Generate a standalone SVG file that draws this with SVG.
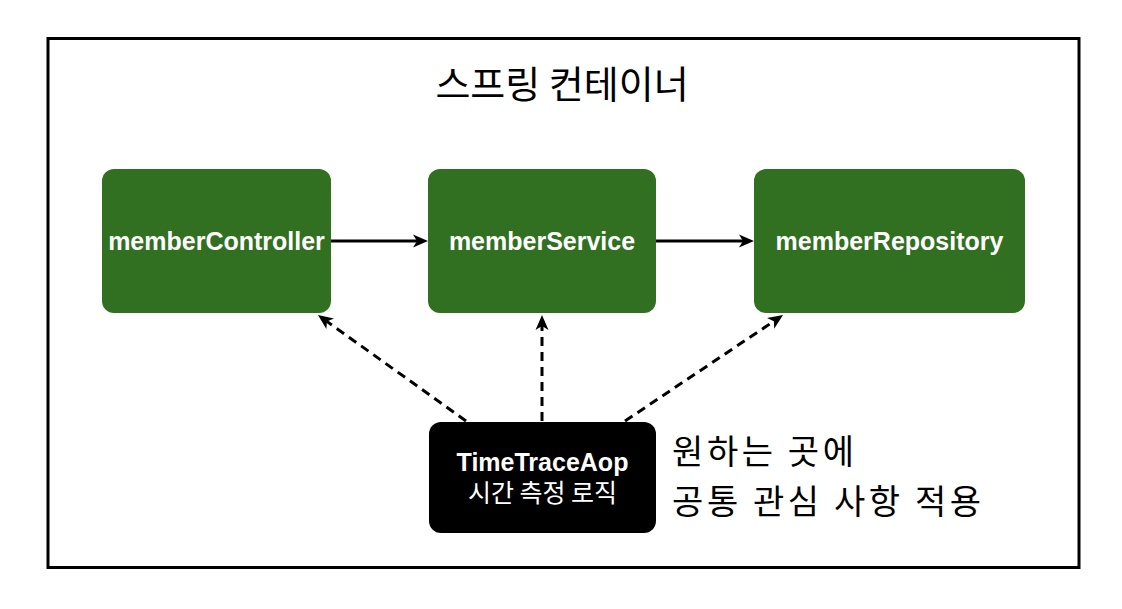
<svg xmlns="http://www.w3.org/2000/svg" width="1122" height="609" viewBox="0 0 1122 609">
<style>
.node{fill:#316F21;}
.aop{fill:#000000;}
.lbl{font-family:"Liberation Sans",Arial,sans-serif;font-weight:bold;font-size:25px;fill:#ffffff;text-anchor:middle;}
.kr{font-family:"Noto Sans CJK KR","Noto Sans",sans-serif;}
.note{font-size:34px;letter-spacing:3.6px;fill:#000;}
.edge{stroke:#000;stroke-width:3;fill:none;}
.dash{stroke-dasharray:9 6;}
</style>
<defs>
<marker id="ah" markerUnits="userSpaceOnUse" markerWidth="18" markerHeight="16" viewBox="0 0 18 16" refX="4" refY="8" orient="auto">
<path d="M0,1.5 L15,8 L0,14.5 L4,8 Z" fill="#000"/>
</marker>
</defs>
<rect x="0" y="0" width="1122" height="609" fill="#ffffff"/>
<g id="container">
<rect x="48" y="38.5" width="1031" height="529" fill="none" stroke="#000" stroke-width="3"/>
<text x="562" y="98" class="kr" font-size="38" text-anchor="middle" fill="#000">스프링 컨테이너</text>
</g>
<g id="memberController">
<rect class="node" x="102" y="169" width="229" height="144" rx="12"/>
<text class="lbl" x="216.5" y="250">memberController</text>
</g>
<g id="memberService">
<rect class="node" x="428" y="169" width="228" height="144" rx="12"/>
<text class="lbl" x="542" y="250">memberService</text>
</g>
<g id="memberRepository">
<rect class="node" x="754" y="169" width="271" height="144" rx="12"/>
<text class="lbl" x="889.5" y="250">memberRepository</text>
</g>
<g id="TimeTraceAop">
<rect class="aop" x="429" y="422" width="227" height="111" rx="12"/>
<text class="lbl" x="542.5" y="471" font-size="26.5">TimeTraceAop</text>
<text class="kr" x="542.5" y="502" font-size="25" fill="#fff" text-anchor="middle">시간 측정 로직</text>
</g>
<g id="note">
<text class="kr note" x="672" y="464">원하는 곳에</text>
<text class="kr note" x="672" y="514">공통 관심 사항 적용</text>
</g>
<g id="connectors">
<line class="edge" x1="331" y1="241" x2="417" y2="241" marker-end="url(#ah)"/>
<line class="edge" x1="656" y1="241" x2="743" y2="241" marker-end="url(#ah)"/>
<line class="edge dash" x1="466" y1="421" x2="326.9" y2="321.4" marker-end="url(#ah)"/>
<line class="edge dash" x1="542" y1="421" x2="542" y2="326" marker-end="url(#ah)"/>
<line class="edge dash" x1="625" y1="421" x2="773.9" y2="321.2" marker-end="url(#ah)"/>
</g>
</svg>
